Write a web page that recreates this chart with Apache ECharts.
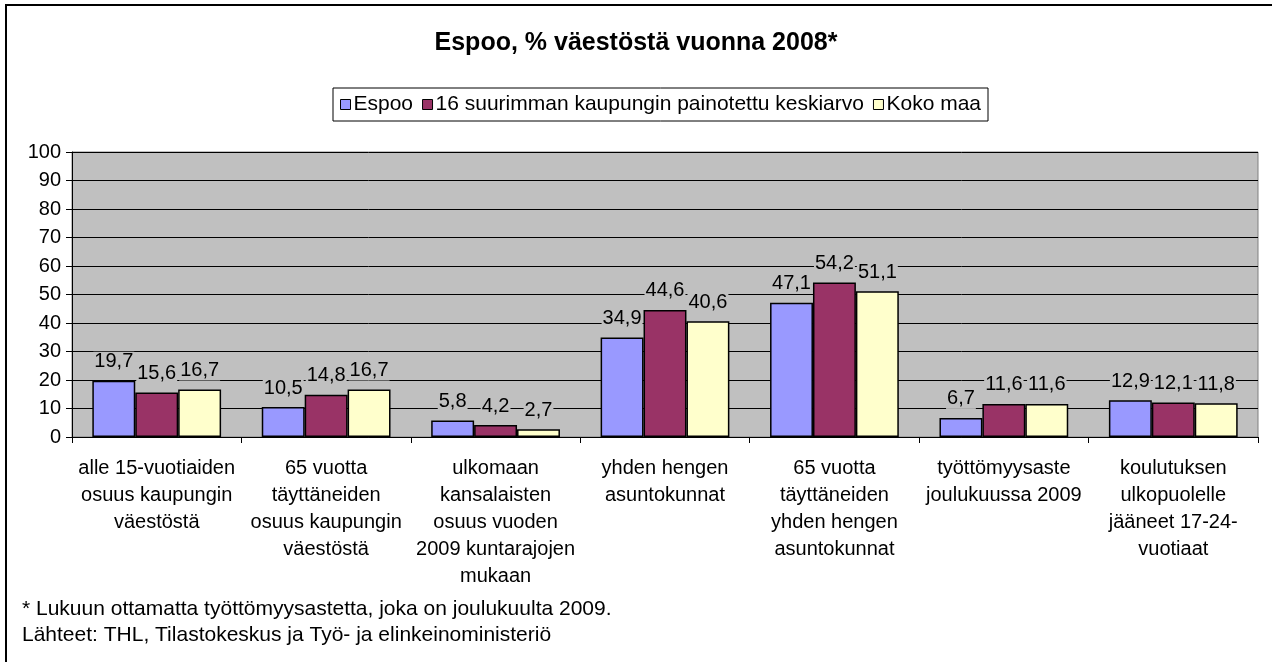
<!DOCTYPE html>
<html>
<head>
<meta charset="utf-8">
<script src="https://cdn.jsdelivr.net/npm/echarts@6/dist/echarts.min.js"></script>
<style>
  html, body {margin: 0; padding: 0; background: #fff;}
  #chart {width: 1272px; height: 662px;}
</style>
</head>
<body>
<div id="chart"></div>
<script>
// kategoriat ja sarjat
const categories = [
  'alle 15-vuotiaiden\nosuus kaupungin\nväestöstä',
  '65 vuotta\ntäyttäneiden\nosuus kaupungin\nväestöstä',
  'ulkomaan\nkansalaisten\nosuus vuoden\n2009 kuntarajojen\nmukaan',
  'yhden hengen\nasuntokunnat',
  '65 vuotta\ntäyttäneiden\nyhden hengen\nasuntokunnat',
  'työttömyysaste\njoulukuussa 2009',
  'koulutuksen\nulkopuolelle\njääneet 17-24-\nvuotiaat'
];
const espoo = [19.7, 10.5, 5.8, 34.9, 47.1, 6.7, 12.9];
const suurimmat16 = [15.6, 14.8, 4.2, 44.6, 54.2, 11.6, 12.1];
const kokoMaa = [16.7, 16.7, 2.7, 40.6, 51.1, 11.6, 11.8];
const seriesNames = ['Espoo', '16 suurimman kaupungin painotettu keskiarvo', 'Koko maa'];
const seriesColors = ['#9999FF', '#993366', '#FFFFCC'];
const footnotes = [
  '* Lukuun ottamatta työttömyysastetta, joka on joulukuulta 2009.',
  'Lähteet: THL, Tilastokeskus ja Työ- ja elinkeinoministeriö'
];

const FONT = 'Arial, "Liberation Sans", sans-serif';
const chart = echarts.init(document.getElementById('chart'));

function makeSeries(name, data, color) {
  return {
    name: name,
    type: 'bar',
    data: data,
    barGap: '0%',
    barCategoryGap: '24%',
    itemStyle: {color: color, borderColor: '#000', borderWidth: 1.5},
    label: {
      show: true,
      position: 'top',
      distance: 9,
      color: '#000',
      fontFamily: FONT,
      fontSize: 20,
      backgroundColor: '#C0C0C0',
      padding: [0, 1],
      formatter: function (p) { return String(p.value).replace('.', ','); }  // pilkku desimaalina
    },
    emphasis: {disabled: true}
  };
}

chart.setOption({
  animation: false,
  textStyle: {fontFamily: FONT},
  title: {
    text: 'Espoo, % väestöstä vuonna 2008*',
    left: 'center',
    top: 31,
    padding: 0,
    textStyle: {fontFamily: FONT, fontSize: 25, fontWeight: 'bold', color: '#000'}
  },
  legend: {
    left: 333,
    top: 88,
    padding: [6, 7],
    itemWidth: 10,
    itemHeight: 10,
    itemGap: 9,
    borderColor: '#000',
    borderWidth: 1,
    selectedMode: false,
    icon: 'rect',
    itemStyle: {borderColor: '#000', borderWidth: 1},
    textStyle: {fontFamily: FONT, fontSize: 21, color: '#000', padding: [0, 0, 0, -2]},
    data: seriesNames
  },
  grid: {
    left: 72,
    right: 14,
    top: 152,
    bottom: 225,
    show: true,
    backgroundColor: '#C0C0C0',
    borderColor: '#808080',
    borderWidth: 1
  },
  xAxis: {
    type: 'category',
    data: categories,
    axisLine: {lineStyle: {color: '#000', width: 1}},
    axisTick: {show: true, length: 6, lineStyle: {color: '#000'}},
    axisLabel: {
      interval: 0,
      margin: 18,
      fontFamily: FONT,
      fontSize: 20,
      color: '#000',
      lineHeight: 27
    }
  },
  yAxis: {
    type: 'value',
    min: 0,
    max: 100,
    interval: 10,
    axisLine: {show: true, lineStyle: {color: '#000', width: 1}},
    axisTick: {show: true, length: 6, lineStyle: {color: '#000'}},
    axisLabel: {fontFamily: FONT, fontSize: 20, color: '#000', margin: 11},
    splitLine: {lineStyle: {color: '#000', width: 1}}
  },
  series: [
    makeSeries(seriesNames[0], espoo, seriesColors[0]),
    makeSeries(seriesNames[1], suurimmat16, seriesColors[1]),
    makeSeries(seriesNames[2], kokoMaa, seriesColors[2])
  ],
  graphic: [
    {
      type: 'rect',
      shape: {x: 6, y: 5, width: 1400, height: 800},
      style: {fill: 'none', stroke: '#000', lineWidth: 2},
      silent: true
    },
    {
      type: 'text', left: 22, top: 599,
      style: {text: footnotes[0], font: '21px ' + FONT, fill: '#000'}
    },
    {
      type: 'text', left: 22, top: 625,
      style: {text: footnotes[1], font: '21px ' + FONT, fill: '#000'}
    }
  ]
});
</script>
</body>
</html>
